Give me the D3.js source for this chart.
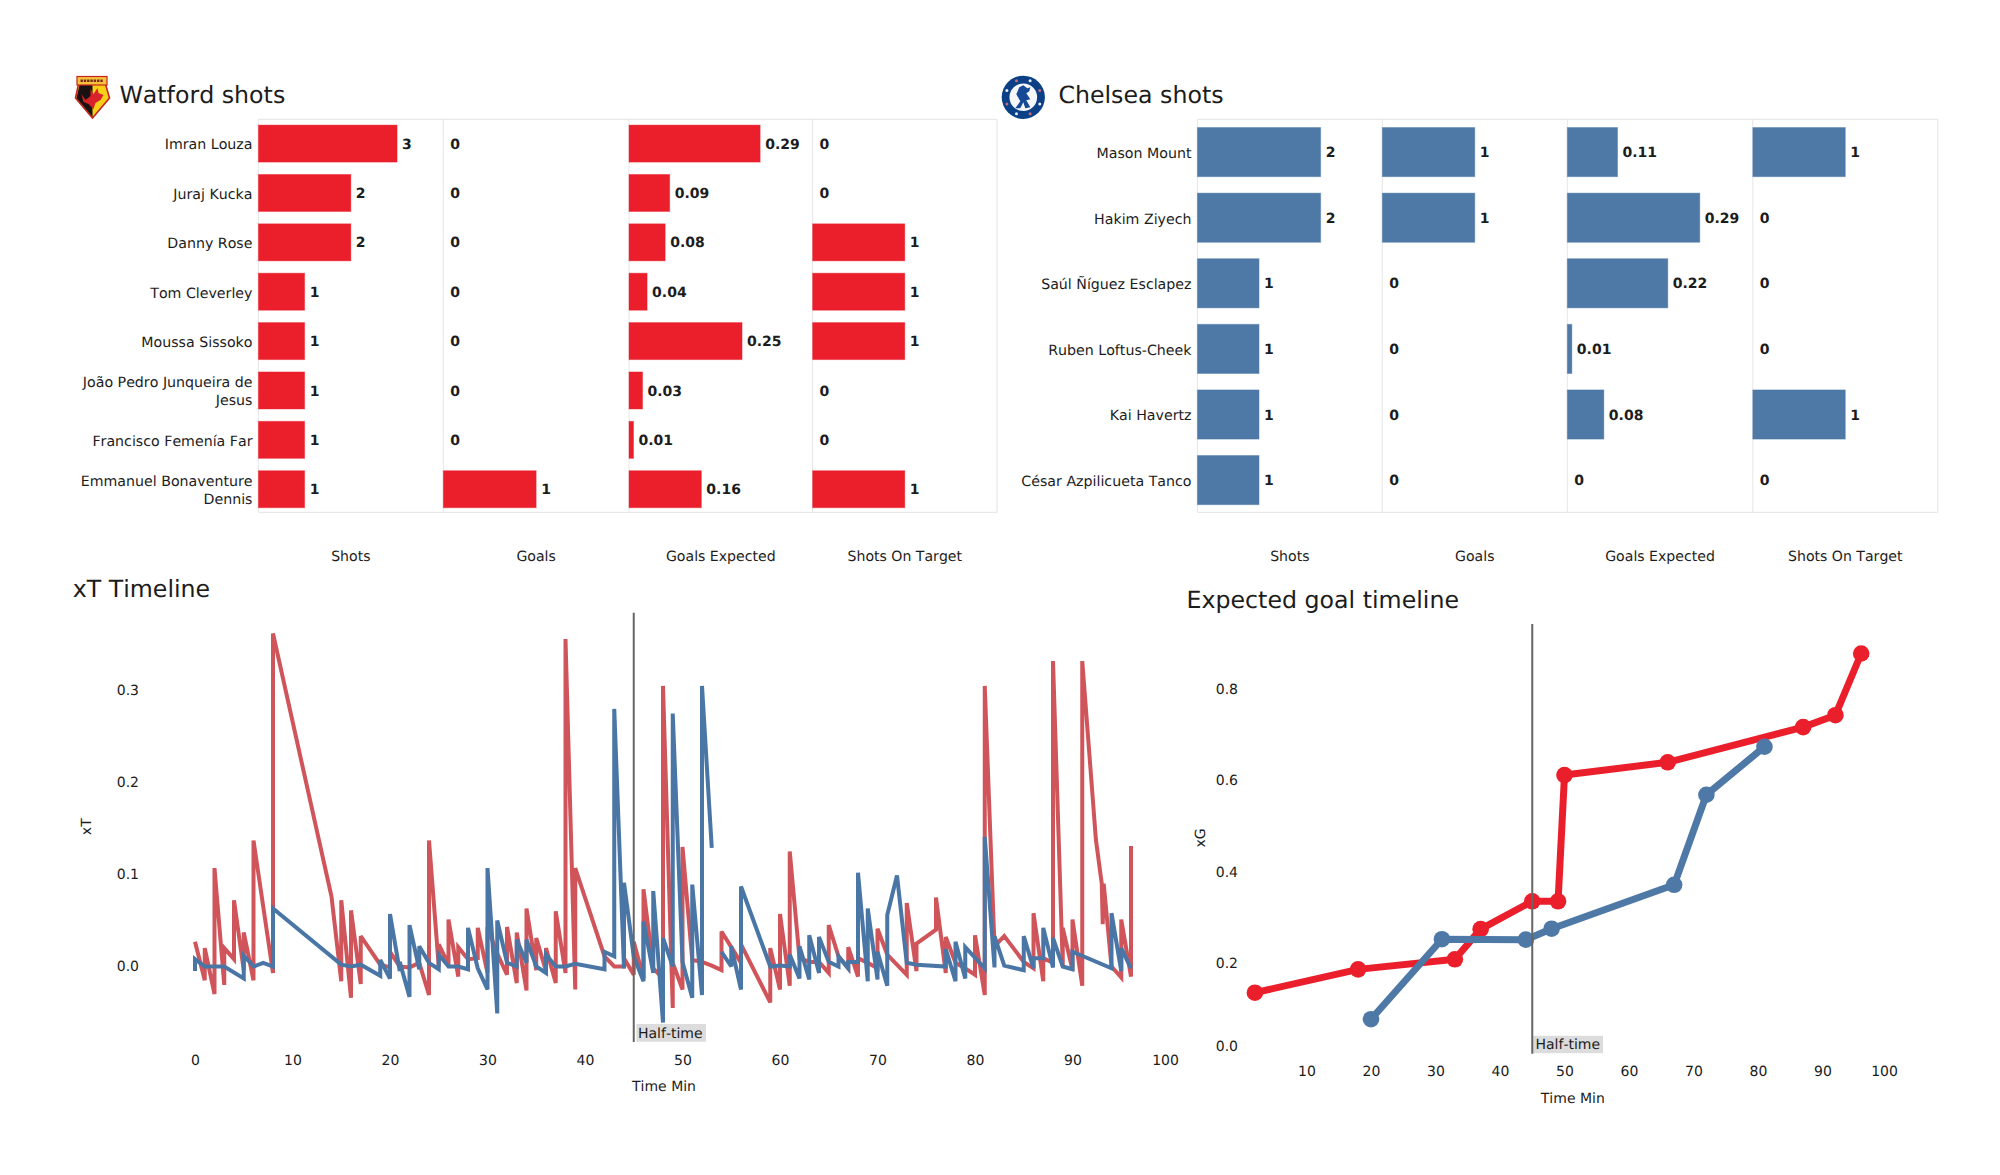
<!DOCTYPE html>
<html><head><meta charset="utf-8">
<script src="https://cdnjs.cloudflare.com/ajax/libs/d3/7.8.5/d3.min.js"></script>
<style>
html,body{margin:0;padding:0;background:#fff}
svg{display:block}
text{font-family:"DejaVu Sans",sans-serif;fill:#1c1c1c;text-rendering:geometricPrecision;font-kerning:none}
</style></head><body><div id="chart"></div>
<script>
const metricLabels=["Shots","Goals","Goals Expected","Shots On Target"];
const watfordPlayers=["Imran Louza","Juraj Kucka","Danny Rose","Tom Cleverley","Moussa Sissoko","João Pedro Junqueira de\nJesus","Francisco Femenía Far","Emmanuel Bonaventure\nDennis"];
const watfordShots=[3,2,2,1,1,1,1,1];
const watfordGoals=[0,0,0,0,0,0,0,1];
const watfordXg=[0.29,0.09,0.08,0.04,0.25,0.03,0.01,0.16];
const watfordOnTarget=[0,0,1,1,1,0,0,1];
const chelseaPlayers=["Mason Mount","Hakim Ziyech","Saúl Ñíguez Esclapez","Ruben Loftus-Cheek","Kai Havertz","César Azpilicueta Tanco"];
const chelseaShots=[2,2,1,1,1,1];
const chelseaGoals=[1,1,0,0,0,0];
const chelseaXg=[0.11,0.29,0.22,0.01,0.08,0];
const chelseaOnTarget=[1,0,0,0,1,0];
const xtTicksX=[0,10,20,30,40,50,60,70,80,90,100];
const xtTicksY=[0,0.1,0.2,0.3];
const xgTicksX=[10,20,30,40,50,60,70,80,90,100];
const xgTicksY=[0,0.2,0.4,0.6,0.8];
const halfTime=45;
const xtWatford=[[0,.027],[1,-.015],[1,.02],[2,-.03],[2,.107],[3,-.02],[3,.02],[4,.008],[4,.072],[5,-.004],[5,.037],[6,-.015],[6,.137],[8,-.007],[8,.362],[14,.076],[15,-.016],[15,.072],[16,-.034],[16,.061],[17,-.019],[17,.033],[19,.002],[20,-.001],[20,.016],[21,0],[22,-.001],[23,.004],[24,-.031],[24,.137],[25,0],[25,.024],[26,.002],[26,.051],[27,-.011],[27,.021],[28,.008],[29,.009],[29,.042],[30,-.007],[30,.043],[31,.014],[32,-.009],[32,.043],[33,-.018],[33,.037],[34,-.026],[34,.063],[35,-.004],[35,.031],[36,-.005],[36,.02],[37,-.018],[37,.06],[38,-.007],[38,.356],[39,-.025],[39,.107],[42,.011],[43,0],[44,0],[44,.009],[45,-.009],[45,.027],[46,-.013],[46,.084],[47,-.002],[48,-.013],[48,.305],[49,-.045],[49,.004],[50,-.025],[50,.13],[51,.007],[52,.005],[53,.001],[54,-.004],[54,.038],[55,.021],[56,.004],[56,.024],[59,-.039],[59,.02],[60,-.025],[60,.057],[61,-.021],[61,.125],[62,.009],[63,.005],[64,.005],[65,-.007],[65,.045],[66,.011],[67,-.002],[67,.021],[68,-.011],[68,.009],[69,.004],[70,-.002],[70,.041],[71,.013],[73,-.009],[73,.069],[74,-.005],[74,.025],[76,.04],[76,.075],[77,-.007],[77,.032],[78,.004],[79,-.002],[80,-.009],[80,.034],[81,-.031],[81,.305],[82,.022],[83,.033],[85,.005],[86,-.002],[86,.058],[87,-.016],[87,.009],[88,.004],[88,.332],[89,0],[89,.042],[90,-.004],[90,.051],[91,-.021],[91,.332],[92.4,.138],[93,.09],[93.1,.046],[93.2,.09],[94,0],[95,-.012],[95,.051],[96,-.011],[96,.131]];
const xtChelsea=[[0,-.005],[0,.008],[1,0],[3,0],[5,-.013],[5,.012],[6,0],[7,.004],[8,0],[8,.063],[15,.002],[16,0],[17,.002],[19,-.01],[19,.007],[20,-.013],[20,.057],[21,-.005],[21,.005],[22,-.033],[22,.045],[23,-.003],[23,.022],[24,.004],[25,-.003],[25,.013],[26,0],[27,0],[28,-.003],[28,.042],[29,-.002],[30,-.025],[30,.107],[31,-.051],[31,.05],[32,.004],[33,0],[33,.029],[34,.004],[34,.029],[35,0],[36,-.007],[36,.013],[37,0],[38,0],[39,.003],[42,-.003],[42,.016],[43,.011],[43,.28],[44,-.002],[44,.091],[45,.011],[46,-.016],[46,.049],[47,-.007],[47,.082],[48,-.061],[48,.031],[49,0],[49,.275],[50,.005],[51,-.034],[51,.089],[52,-.031],[52,.305],[53,.129],[53,null],[54,.016],[55,0],[55,.022],[56,-.025],[56,.087],[59,0],[60,.001],[61,0],[61,.013],[62,-.013],[62,.022],[63,-.014],[63,.034],[64,-.007],[64,.032],[65,.005],[66,0],[66,.011],[67,-.002],[67,.005],[68,.005],[68,.102],[69,-.016],[69,.063],[70,-.014],[70,.016],[71,-.021],[71,.056],[72,.099],[73,.004],[74,.002],[77,0],[77,.019],[78,-.016],[78,.027],[79,-.013],[79,.021],[81,-.002],[81,.141],[82,-.001],[82,.033],[83,.001],[85,-.004],[85,.033],[86,-.002],[86,.009],[87,.009],[87,.042],[88,-.001],[88,.031],[89,0],[90,-.003],[90,.016],[94,-.002],[94,.058],[95,-.005],[95,.02],[96,-.002]];
const xgWatford=[[2,.135],[18,.186],[33,.208],[37,.274],[45,.335],[49,.335],[50,.611],[66,.639],[87,.716],[92,.742],[96,.877]];
const xgChelsea=[[20,.077],[31,.252],[44,.251],[48,.275],[67,.371],[72,.568],[81,.673]];

const RED="#ea1f2b",BLUE="#4e79a7",XT_RED="#d0555b",XT_BLUE="#4a76a6";
const svg=d3.select("#chart").append("svg").attr("width",2000).attr("height",1175).attr("viewBox","0 0 2000 1175");
svg.append("rect").attr("width",2000).attr("height",1175).attr("fill","#fff");

function text(x,y,s,size,anchor,extra){
  const t=svg.append("text").attr("x",x).attr("y",y).attr("dy","0.36em").attr("font-size",size).attr("text-anchor",anchor||"start").text(s);
  if(extra)extra(t);return t;
}

function barPanel(cfg){
  const {players,series,domains,lefts,right,color,labelX,bandRange}=cfg;
  const top=119.3,bottom=512.3;
  const y=d3.scaleBand().domain(players).range(bandRange).paddingInner(.25).paddingOuter(.125);
  series.forEach((vals,i)=>{
    const x0=lefts[i],w=(lefts[i+1]||right)-x0;
    const x=d3.scaleLinear().domain([0,domains[i]]).range([x0,x0+w]);
    const g=svg.append("g");
    g.append("line").attr("x1",x0).attr("x2",x0).attr("y1",top).attr("y2",bottom).attr("stroke","#e6e6e6");
    g.selectAll("rect").data(vals).join("rect")
      .attr("x",x0).attr("y",(d,j)=>y(players[j])).attr("width",d=>x(d)-x0).attr("height",y.bandwidth())
      .attr("fill",color).attr("stroke",color).attr("stroke-opacity",.4).attr("stroke-width",1);
    g.selectAll("text").data(vals).join("text")
      .attr("x",d=>x(d)+(d===0?7:5)).attr("y",(d,j)=>y(players[j])+y.bandwidth()/2).attr("dy","0.36em")
      .attr("font-size",14).attr("font-weight","bold").attr("fill","#111").text(d=>String(d));
    text(x0+w/2,556.2,metricLabels[i],14.1,"middle");
  });
  svg.append("path").attr("fill","none").attr("stroke","#e3e3e3").attr("stroke-width",1)
    .attr("d",`M${lefts[0]},${top}H${right}V${bottom}H${lefts[0]}`);
  players.forEach(p=>{
    const lines=p.split("\n"),cy=y(p)+y.bandwidth()/2+.8;
    lines.forEach((l,k)=>text(labelX,cy+(k-(lines.length-1)/2)*18,l,14.2,"end"));
  });
}
barPanel({players:watfordPlayers,series:[watfordShots,watfordGoals,watfordXg,watfordOnTarget],domains:[4,2,.406,2],lefts:[258.4,443.3,629,812.6],right:997,color:RED,labelX:252.5,bandRange:[118.9,513.9]});
barPanel({players:chelseaPlayers,series:[chelseaShots,chelseaGoals,chelseaXg,chelseaOnTarget],domains:[3,2,.406,2],lefts:[1197.4,1382.3,1567.3,1752.8],right:1937.8,color:BLUE,labelX:1191.5,bandRange:[119.3,512.9]});
text(119.4,94.5,"Watford shots",23.7);
text(1058.4,94.5,"Chelsea shots",23.7);
text(72.7,588,"xT Timeline",23.7);
text(1186.5,599,"Expected goal timeline",23.7);

function axes(x,y,xt,yt,axisY,axisX,xFmt,yFmt){
  const gx=svg.append("g").attr("transform",`translate(0,${axisY})`).call(d3.axisBottom(x).tickValues(xt).tickSize(0).tickPadding(0).tickFormat(xFmt));
  gx.select(".domain").remove();
  gx.selectAll("text").attr("font-size",14).attr("font-family","DejaVu Sans").attr("fill","#222");
  const gy=svg.append("g").attr("transform",`translate(${axisX},0)`).call(d3.axisLeft(y).tickValues(yt).tickSize(0).tickPadding(0).tickFormat(yFmt));
  gy.select(".domain").remove();
  gy.selectAll("text").attr("font-size",14).attr("font-family","DejaVu Sans").attr("fill","#222");
  return {gx,gy};
}
function halfLine(x,y1,y2,bx,bw,by,bh,tx,ty){
  svg.append("rect").attr("x",bx).attr("y",by).attr("width",bw).attr("height",bh).attr("fill","#dcdcdc");
  svg.append("line").attr("x1",x(halfTime)).attr("x2",x(halfTime)).attr("y1",y1).attr("y2",y2).attr("stroke","#666").attr("stroke-width",2);
  text(tx,ty,"Half-time",14,"start");
}

// xT timeline
{
  const x=d3.scaleLinear().domain([0,100]).range([195,1170]);
  const y=d3.scaleLinear().domain([0,.3]).range([966.5,690.5]);
  const a=axes(x,y,xtTicksX,xtTicksY,1055.5,139,d3.format("d"),d3.format(".1f"));
  a.gx.selectAll(".tick").filter(d=>d===100).select("text").attr("dx",-5);
  const line=d3.line().defined(d=>d[1]!==null).x(d=>x(d[0])).y(d=>y(d[1]));
  svg.append("path").datum(xtWatford).attr("d",line).attr("fill","none").attr("stroke",XT_RED).attr("stroke-width",4).attr("stroke-linejoin","miter").attr("stroke-miterlimit",3);
  svg.append("path").datum(xtChelsea).attr("d",line).attr("fill","none").attr("stroke",XT_BLUE).attr("stroke-width",4).attr("stroke-linejoin","miter").attr("stroke-miterlimit",3);
  halfLine(x,612.7,1042,636.4,69.6,1024,17.7,638,1033);
  text(664,1086.2,"Time Min",14,"middle");
  text(85.6,826.7,"xT",14,"middle",t=>t.attr("transform","rotate(-90 85.6 826.7)"));
}
// xG timeline
{
  const x=d3.scaleLinear().domain([0,100]).range([1242,1887]);
  const y=d3.scaleLinear().domain([0,.8]).range([1054.4,688.7]);
  const a=axes(x,y,xgTicksX,xgTicksY,1066.2,1238,d3.format("d"),d3.format(".1f"));
  a.gx.selectAll(".tick").filter(d=>d===100).select("text").attr("dx",-3);
  a.gy.selectAll(".tick").filter(d=>d===0).select("text").attr("dy","-0.28em");
  const line=d3.line().x(d=>x(d[0])).y(d=>y(d[1]));
  [[xgWatford,RED],[xgChelsea,BLUE]].forEach(([data,c])=>{
    svg.append("path").datum(data).attr("d",line).attr("fill","none").attr("stroke",c).attr("stroke-width",7).attr("stroke-linejoin","round");
    svg.append("g").selectAll("circle").data(data).join("circle").attr("cx",d=>x(d[0])).attr("cy",d=>y(d[1])).attr("r",8.3).attr("fill",c);
  });
  halfLine(x,624,1053.7,1533,70,1035.8,17.4,1535.5,1044.4);
  text(1572.8,1097.5,"Time Min",14,"middle");
  text(1200,838,"xG",14,"middle",t=>t.attr("transform","rotate(-90 1200 838)"));
}
// Watford badge
{
  const g=svg.append("g").attr("transform","translate(73.5,76)");
  g.append("path").attr("d","M2,22L5,8H32L36,22L19,42Z").attr("fill","#f7d117").attr("stroke","#c8241f").attr("stroke-width",1.6);
  g.append("path").attr("d","M3,22L6,9H19V41Z").attr("fill","#1a1212");
  g.append("rect").attr("x",3.5).attr("y",0.5).attr("width",30).attr("height",8.5).attr("fill","#f5c33b").attr("stroke","#c8241f").attr("stroke-width",1.2);
  g.append("path").attr("d","M7,4.8H30").attr("stroke","#7a2a1a").attr("stroke-width",2.6).attr("stroke-dasharray","2.4 .9");
  g.append("path").attr("d","M8,18L12,24L17,20L17,13L20,18L24,12L25,17L30,19L27,24L22,27L20,33L15,28L10,26Z").attr("fill","#d8232a");
}
// Chelsea badge
{
  const g=svg.append("g").attr("transform","translate(1023.3,97.3)");
  g.append("circle").attr("r",21.6).attr("fill","#0b3f86");
  g.append("circle").attr("r",13.8).attr("fill","#f4f6fa");
  d3.range(8).forEach(i=>{const t=i*Math.PI/4+Math.PI/8;
    g.append("circle").attr("cx",17.8*Math.cos(t)).attr("cy",17.8*Math.sin(t)).attr("r",1.5).attr("fill",i%2?"#c86a7a":"#e9eef6");});
  g.append("path").attr("d","M-8,11L-3,4L-7,-3L-4,-10L0,-12L4,-9L7,-10L6,-6L3,-4L7,2L3,3L7,10L2,11L0,5L-3,11Z").attr("fill","#174a96");
}
</script></body></html>
